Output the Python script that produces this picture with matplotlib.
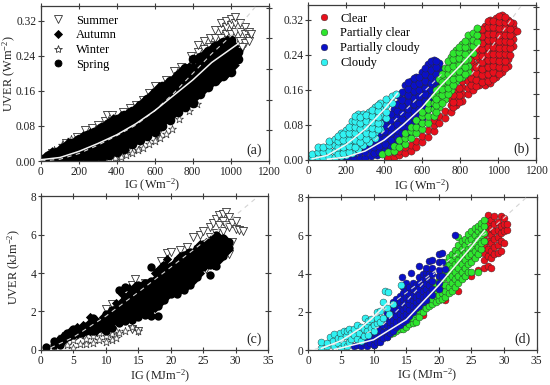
import matplotlib
matplotlib.use("Agg")
import matplotlib.pyplot as plt
from matplotlib.lines import Line2D

plt.rcParams['font.family'] = ['Liberation Serif', 'DejaVu Serif']
plt.rcParams['mathtext.default'] = 'regular'
plt.rcParams['font.size'] = 8

# ---------- panel (a): IG (W/m2), UVER (W/m2) ----------
a_summer = [(60,[.018]),(130,[.04]),(190,[.055]),(230,[.07]),(270,[.075]),(300,[.082]),(340,[.092]),(350,[.105]),(375,[.106]),(430,[.112]),(470,[.12]),(500,[.128]),(540,[.14]),(570,[.155]),(600,[.172]),(660,[.185]),(700,[.205]),(720,[.195]),(740,[.215]),(790,[.24]),(830,[.25]),(830,[.265]),(860,[.255,.275]),(890,[.26,.28]),(920,[.265,.28,.3]),(950,[.28,.3,.315]),(975,[.29,.305,.32]),(1000,[.27,.29,.31,.325]),(1025,[.275,.295,.315,.33]),(1050,[.25,.275,.295,.315]),(1075,[.27,.29,.305]),(1095,[.28,.295,.275]),(1108,[.29]),(1060,[.26]),(610,[.06]),(500,[.03]),(450,[.02]),(400,[.008])]
a_winter = [(330,[.002]),(360,[.004]),(390,[.007]),(420,[.01]),(450,[.014]),(480,[.018]),(510,[.024]),(540,[.03]),(570,[.038]),(600,[.046]),(630,[.052]),(660,[.062]),(690,[.072]),(730,[.095]),(780,[.115]),(820,[.13]),(70,[.026]),(110,[.036]),(160,[.05])]
a_spring = [(0,[.004]),(40,[.004,.014]),(80,[.005,.021]),(120,[.005,.02,.032]),(160,[.005,.02,.036,.042]),(200,[.006,.022,.038,.05]),(240,[.007,.023,.039,.059]),(280,[.007,.023,.039,.055,.067]),(320,[.01,.026,.042,.058,.077]),(360,[.013,.029,.045,.061,.077,.087]),(400,[.02,.036,.052,.068,.084,.097]),(440,[.028,.044,.06,.076,.092,.105]),(480,[.038,.054,.07,.086,.102,.114]),(520,[.048,.064,.08,.096,.112,.127]),(560,[.058,.074,.09,.106,.122,.142]),(600,[.066,.082,.098,.114,.13,.146,.157]),(640,[.08,.096,.112,.128,.144,.16,.172]),(680,[.093,.109,.125,.141,.157,.173,.182]),(720,[.113,.129,.145,.161,.177,.197]),(760,[.123,.139,.155,.171,.187,.203,.212]),(800,[.133,.149,.165,.181,.197,.213,.232]),(840,[.153,.169,.185,.201,.217,.237]),(880,[.168,.184,.2,.216,.232,.252]),(920,[.183,.199,.215,.231,.247,.262]),(960,[.193,.209,.225,.241,.257,.272]),(1000,[.203,.219,.235,.251,.267,.277]),(1040,[.233,.25])]
a_autumn = [(20,[.008]),(60,[.01,.02]),(100,[.012,.028]),(140,[.012,.028,.04]),(180,[.014,.03,.046]),(220,[.015,.031,.047,.056]),(260,[.015,.031,.047,.063]),(300,[.014,.03,.046,.062,.073]),(340,[.018,.034,.05,.066,.082]),(380,[.024,.04,.056,.072,.088,.095]),(420,[.03,.046,.062,.078,.094,.102]),(460,[.04,.056,.072,.088,.104,.11]),(500,[.05,.066,.082,.098,.114,.122]),(540,[.06,.076,.092,.108,.124,.134]),(580,[.07,.086,.102,.118,.134,.15]),(620,[.08,.096,.112,.128,.144,.16,.168]),(660,[.095,.111,.127,.143,.159,.175]),(700,[.11,.126,.142,.158,.174,.19]),(740,[.125,.141,.157,.173,.189,.205]),(780,[.135,.151,.167,.183,.199,.215]),(820,[.15,.166,.182,.198,.214,.232]),(860,[.165,.181,.197,.213,.229,.245]),(900,[.18,.196,.212,.228,.244,.258]),(940,[.19,.206,.222,.238,.254,.268]),(980,[.2,.216,.232,.248,.264,.277]),(1020,[.22,.236,.252,.262])]
a_fit_ig = [0,100,200,300,400,500,600,700,800,900,1040]
a_fit_uv = [.003,.008,.022,.04,.06,.085,.115,.15,.185,.225,.268]
a_dash_ig = [0,100,200,300,400,500,600,700,800,900,1000,1130]
a_dash_uv = [0,.004,.017,.036,.058,.082,.115,.155,.2,.245,.285,.352]

# ---------- panel (b) ----------
b_red = [(420,[.004]),(450,[.006,.018]),(480,[.01,.021]),(510,[.016,.029]),(540,[.02,.033]),(570,[.03,.042]),(600,[.04,.054]),(630,[.052,.068]),(660,[.065,.08,.09]),(690,[.085,.1]),(720,[.095,.112]),(750,[.11,.125,.138]),(780,[.125,.14,.155]),(810,[.135,.15,.166,.18]),(840,[.15,.165,.18,.196,.21]),(870,[.16,.176,.19,.206,.22,.24,.255]),(900,[.17,.186,.2,.216,.23,.246,.26,.275,.288]),(930,[.17,.184,.2,.214,.23,.244,.26,.276,.29,.306]),(960,[.176,.19,.206,.22,.236,.25,.266,.28,.296,.31,.32]),(990,[.19,.204,.22,.234,.25,.264,.28,.294,.31,.325]),(1020,[.2,.216,.23,.246,.26,.276,.29,.306,.32,.33]),(1050,[.215,.23,.244,.26,.274,.29,.304,.32]),(1080,[.26,.276,.29,.304,.312]),(1100,[.295]),
         (855,[.172,.187,.2,.228]),(885,[.168,.183,.198,.212,.238,.253,.27]),(915,[.178,.193,.208,.223,.238,.253,.268,.283,.298]),(945,[.18,.196,.212,.228,.243,.258,.273,.288,.303,.318]),(975,[.185,.2,.214,.228,.243,.258,.273,.288,.303,.318]),(1005,[.197,.212,.226,.241,.256,.271,.286,.301,.316,.328]),(1035,[.21,.226,.241,.256,.271,.286,.301,.316,.326]),(1065,[.24,.255,.27,.285,.3,.315]),(795,[.133,.148,.163]),(765,[.12,.133,.147])]
b_blue = [(180,[.002]),(210,[.004]),(240,[.004,.016]),(270,[.004,.018,.028]),(300,[.005,.018,.03]),(330,[.008,.022,.036,.048]),(360,[.01,.024,.038,.052,.066]),(390,[.016,.03,.044,.058,.072,.085]),(420,[.024,.038,.052,.066,.08,.095]),(450,[.03,.045,.06,.075,.09,.105,.115]),(480,[.04,.055,.07,.085,.1,.115,.13,.145]),(510,[.05,.065,.08,.095,.11,.125,.14,.155,.17]),(540,[.06,.075,.09,.105,.12,.135,.15,.165,.18]),(570,[.075,.09,.105,.12,.135,.15,.165,.18,.19]),(600,[.095,.11,.125,.14,.155,.17,.185,.2]),(630,[.115,.13,.145,.16,.175,.19,.205,.22]),(660,[.14,.155,.17,.185,.2,.215,.228]),(690,[.165,.18,.195,.21,.222]),(710,[.19,.205]),
          (345,[.015,.03,.045,.058]),(375,[.017,.032,.047,.062,.076]),(405,[.02,.035,.05,.065,.08,.09]),(435,[.03,.045,.06,.075,.09,.104]),(465,[.037,.052,.067,.082,.097,.112,.128]),(495,[.047,.062,.077,.092,.107,.122,.137,.155]),(525,[.057,.072,.087,.102,.117,.132,.147,.162,.178]),(555,[.067,.082,.097,.112,.127,.142,.157,.172,.186]),(585,[.085,.1,.115,.13,.145,.16,.175,.19]),(615,[.105,.12,.135,.15,.165,.18,.195,.21]),(645,[.13,.145,.16,.175,.19,.205,.225]),(675,[.152,.167,.182,.197,.212,.226])]
b_green = [(390,[.012]),(420,[.018]),(450,[.02,.032]),(480,[.03,.045]),(510,[.036,.05,.06]),(540,[.05,.065,.075]),(570,[.06,.075,.09]),(600,[.07,.085,.1,.11]),(630,[.085,.1,.115,.13]),(660,[.1,.115,.13,.145]),(690,[.12,.135,.15,.165,.185]),(720,[.14,.155,.17,.185,.2,.21]),(750,[.16,.175,.19,.205,.22,.235]),(780,[.18,.195,.21,.225,.24,.25]),(810,[.19,.205,.22,.235,.25,.265]),(840,[.2,.215,.23,.245,.26,.275,.285]),(870,[.245,.26,.275,.29]),(890,[.27,.285,.302]),
           (675,[.11,.125,.14,.16]),(705,[.13,.147,.162,.177,.195]),(735,[.15,.165,.18,.195,.21,.225]),(765,[.17,.185,.2,.215,.23,.245]),(795,[.187,.202,.217,.232,.247,.258]),(825,[.197,.212,.227,.242,.257,.272])]
b_cyan = [(0,[.005]),(20,[.006,.012]),(50,[.005,.018,.03]),(80,[.005,.018,.028]),(110,[.006,.02,.034,.042]),(140,[.006,.02,.034,.048]),(170,[.008,.022,.036,.05,.062]),(200,[.01,.024,.038,.052,.068]),(230,[.016,.03,.044,.058,.072,.088]),(260,[.024,.038,.052,.066,.08,.094,.105]),(290,[.034,.048,.062,.076,.09,.104]),(320,[.04,.054,.068,.082,.096,.11]),(350,[.05,.064,.078,.092,.106,.12]),(380,[.07,.085,.1,.115,.13]),(410,[.095,.11,.125,.14]),(440,[.13,.145]),(460,[.15]),
          (155,[.014,.028,.042,.055]),(185,[.016,.03,.044,.058]),(215,[.018,.032,.046,.06,.075]),(245,[.03,.045,.06,.074,.088,.1]),(275,[.04,.055,.07,.084,.098]),(305,[.047,.061,.075,.089,.103]),(335,[.058,.072,.086,.1,.114]),(365,[.07,.084,.098,.112,.126])]
b_curve1_ig = [20,100,200,300,400,470]
b_curve1_uv = [.002,.01,.035,.07,.115,.152]
b_curve2_ig = [100,200,300,400,500,600,700,800,900]
b_curve2_uv = [.001,.006,.02,.045,.08,.12,.17,.215,.262]
b_dash1_ig = [352,713]
b_dash1_uv = [.045,.2]
b_dash2_ig = [860,1135]
b_dash2_uv = [.195,.36]

# ---------- panel (c): IG (MJ/m2), UVER (kJ/m2) ----------
c_summer = [(10,[2.1]),(11,[2.4]),(13,[2.8,3.0]),(14,[3.4,1.1]),(14.5,[3.7]),(16,[3.5]),(18.5,[4.6]),(19.5,[5.05]),(20,[5.1]),(21.5,[5.2]),(22.5,[5.35]),(23.5,[5.9]),(24.5,[6.0]),(25,[6.2]),(26,[6.4,5.9]),(26.5,[6.6]),(27,[6.8,6.1]),(27.5,[7.0,6.5]),(28,[7.1,6.7,6.2]),(28.5,[7.2,6.5]),(29,[6.9,6.4,5.0]),(29.5,[6.6,5.6]),(30,[6.3,6.7]),(30.5,[6.25]),(31.2,[6.2]),(25.5,[4.2]),(15,[1.0])]
c_winter = [(2,[.15]),(3.2,[.7]),(4,[.25]),(5,[.1,.5]),(6,[.3,.75]),(7,[.3,.55]),(8,[.35,.7]),(9,[.5,.85]),(10,[.4,.7]),(11,[.8,.5]),(11.5,[.6,1.0]),(12,[.85]),(13,[1.0]),(14,[1.2]),(15,[.95])]
c_spring = [(.8,[.15]),(2,[.25,.45]),(3,[.25,.55]),(4,[.65,.85]),(5,[.75,1.1]),(6,[.85,1.1]),(7,[.95,1.25]),(8,[1.0,1.3,1.65]),(9,[1.15,1.45]),(10,[1.0,1.3,1.6,1.85]),(11,[1.15,1.45,1.75,2.05]),(12,[1.4,1.7,2.0,2.3,3.1]),(13,[1.5,1.8,2.1,2.4,2.7,3.25]),(14,[1.55,1.85,2.15,2.45,2.75,3.05]),(15,[1.7,2.0,2.3,2.6,2.9,3.2,3.4]),(16,[1.8,2.1,2.4,2.7,3.0,3.3,3.5]),(17,[1.75,2.1,2.4,2.7,3.0,3.3,3.6,4.3]),(18,[1.75,2.3,2.6,2.9,3.2,3.5,3.8,4.1]),(19,[2.6,2.9,3.2,3.5,3.8,4.1,4.4]),(20,[2.9,3.2,3.5,3.8,4.1,4.35]),(21,[2.9,3.2,3.5,3.8,4.1,4.4,4.7]),(22,[3.1,3.4,3.7,4.0,4.3,4.6,4.95]),(23,[3.4,3.7,4.0,4.3,4.6,4.9,5.1]),(24,[3.8,4.1,4.4,4.7,5.0,5.3]),(25,[4.3,4.6,4.9,5.2,5.5]),(26,[3.9,4.4,4.7,5.0,5.3,5.6]),(27,[4.35,4.6,4.9,5.2,5.5,5.8,6.0]),(28,[4.9,5.2,5.5,5.8]),(29,[5.3,5.6])]
c_autumn = [(2.5,[.4]),(3.5,[.5,.75]),(4.5,[.7,.95]),(5.5,[.8,1.2]),(6.5,[.85,1.05,1.3]),(7.5,[.95,1.15,1.45,1.7]),(8.5,[.95,1.25,1.55]),(9.5,[1.1,1.4,1.7]),(10.5,[1.3,1.6,1.9]),(11.5,[1.55,1.85,2.15,2.45]),(12.5,[1.65,1.95,2.25,2.55,2.9,3.1]),(13.5,[1.7,2.0,2.3,2.6,2.9,3.2]),(14.5,[1.85,2.15,2.45,2.75,3.05,3.3]),(15.5,[1.9,2.2,2.5,2.8,3.1,3.4]),(16.5,[1.9,2.25,2.55,2.85,3.15,3.45]),(17.5,[2.2,2.5,2.8,3.1,3.4,3.7,4.0]),(18.5,[2.5,2.8,3.1,3.4,3.7,4.0,4.3]),(19.5,[2.8,3.1,3.4,3.7,4.0,4.3,4.75]),(20.5,[3.0,3.3,3.6,3.9,4.2,4.5]),(21.5,[3.1,3.4,3.7,4.0,4.3,4.6,4.9]),(22.5,[3.3,3.6,3.9,4.2,4.5,4.8,5.05]),(23.5,[3.6,3.9,4.2,4.5,4.8,5.1]),(24.5,[4.0,4.3,4.6,4.9,5.2,5.5]),(25.5,[4.4,4.7,5.0,5.3,5.6]),(26.5,[4.4,4.7,5.0,5.3,5.6,5.9]),(27.5,[4.7,5.0,5.3,5.6,5.9]),(28.5,[5.1,5.4,5.7])]
c_dash_ig = [1.5,5,10,15,20,25,33.5]
c_dash_uv = [.1,.65,1.75,3.0,4.3,5.6,8.0]

# ---------- panel (d) ----------
d_red = [(17,[1.95]),(17.5,[1.85]),(19,[2.6]),(21,[2.65,3.15]),(22,[3.3]),(23,[3.1,4.2]),(24,[3.9,4.4]),(25,[4.75,3.9,5.1]),(26,[4.2,5.0,6.3]),(27,[4.3,4.7,5.1,5.5,6.0,6.4,6.6]),(27.5,[4.4,4.9,5.3,5.7,6.2,6.6,7.05]),(28,[4.3,4.8,5.2,5.6,6.0,6.4,6.8]),(28.5,[5.0,5.4,5.8,6.2,6.6,7.0]),(29,[5.1,5.5,5.9,6.3,6.7]),(29.5,[5.2,5.7,6.1,6.5,7.0]),(30,[6.2,6.6,6.9,5.6]),(30.5,[6.3,6.6])]
d_blue = [(7,[.2]),(7.5,[.3]),(8,[.25,.6]),(8.5,[.4]),(9,[.25,.55,.85]),(9.5,[.4,.7]),(10,[.3,.6,.95]),(10.5,[.45,.8,1.2]),(11,[.45,.75,1.05,1.4]),(11.5,[.65,.95,1.3,1.65]),(12,[.7,1.0,1.3,1.6,1.95]),(12.5,[.9,1.2,1.5,1.8,2.1]),(13,[1.0,1.3,1.6,1.9,2.2,2.5]),(13.5,[1.2,1.5,1.8,2.1,2.4,2.7]),(14,[1.3,1.6,1.9,2.2,2.5,2.85]),(14.5,[1.5,1.8,2.1,2.4,2.7,3.0,3.3]),(15,[1.6,1.9,2.2,2.5,2.8,3.1,3.5]),(15.5,[1.8,2.1,2.4,2.7,3.0,3.3]),(16,[2.0,2.3,2.6,2.9,3.2,3.5]),(16.5,[2.2,2.5,2.8,3.1,3.4]),(17,[2.3,2.6,2.9,3.2,3.5,3.8,4.4]),(17.5,[2.5,2.8,3.1,3.4,3.7,4.0]),(18,[2.6,2.9,3.2,3.5,3.8,4.1,4.3]),(18.5,[3.0,3.4,3.7,4.0,4.65]),(19,[2.9,3.2,3.6,4.0,4.3,4.7]),(20,[3.2,3.5,3.9,4.2,4.6,5.05]),(20.5,[3.9,4.6,5.1]),(21,[4.25]),(22.5,[6.0]),(14.3,[3.8]),(15.8,[4.05])]
d_green = [(10,[.3]),(11,[.55,.8]),(12,[.7,1.0]),(12.5,[.85,1.1]),(13,[.9,1.2]),(13.5,[1.0,1.3]),(14,[1.1,1.4,1.75]),(14.5,[1.1,1.45,1.8]),(15,[1.2,1.5,1.9]),(15.5,[1.35,1.7,2.0]),(16,[1.4,1.7,2.1,2.3]),(16.5,[1.5,1.9,2.25]),(17,[1.75,2.1,2.4,2.9]),(17.5,[2.0,2.3,2.65,3.0]),(18,[2.2,2.5,2.8,3.1]),(18.5,[2.3,2.65,2.95,3.25]),(19,[2.4,2.7,3.0,3.4]),(19.5,[2.5,2.85,3.15,3.5]),(20,[2.6,2.9,3.2,3.6,3.9]),(20.5,[2.7,3.0,3.4,3.7,4.1]),(21,[2.8,3.1,3.4,3.8,4.2,4.6]),(21.5,[3.0,3.3,3.7,4.05,4.45,4.85]),(22,[3.1,3.5,3.9,4.3,4.7,5.0]),(22.5,[3.3,3.7,4.1,4.5,4.9,5.25]),(23,[3.5,3.9,4.3,4.7,5.1,5.5,5.9]),(23.5,[3.7,4.1,4.5,4.9,5.3,5.7]),(24,[3.9,4.3,4.7,5.1,5.5,5.8]),(24.5,[4.1,4.5,4.9,5.3,5.7,6.05]),(25,[4.1,4.6,5.0,5.4,5.8,6.2]),(25.5,[4.8,5.2,5.6,6.0,6.4]),(26,[4.1,5.0,5.4,5.8,6.2,6.5]),(26.5,[5.3,5.6,6.0,6.4,6.65]),(27,[5.7,6.1,6.5,6.8])]
d_cyan = [(2,[.1,.45]),(2.8,[.2,.4]),(3.3,[.7]),(3.8,[.5]),(4,[.85,.25]),(4.5,[.4,.65]),(4.8,[.9]),(5,[.1,.6]),(5.5,[1.0,.35]),(5.8,[.75]),(6,[.2,1.0]),(6.3,[1.1,.45]),(6.6,[.6,.9]),(7,[.8,1.1]),(7.4,[1.3,.6]),(7.8,[.9]),(8,[.5,1.2]),(8.5,[1.1,.75]),(8.7,[1.7]),(9,[1.3,1.0]),(9.2,[.8,1.55]),(9.6,[1.65,1.15]),(10,[1.0,1.3]),(10.5,[1.4,1.7,2.0]),(11,[1.5,2.05]),(11.5,[1.7,2.5]),(12,[2.2]),(12.3,[1.9]),(11.8,[3.1]),(12.2,[3.05]),(13,[2.4]),(14.2,[3.4])]
d_curve1_ig = [2,5,8,10,12.2]
d_curve1_uv = [.1,.5,1.15,1.75,2.5]
d_curve2_ig = [4,5,10,15,20,25,27]
d_curve2_uv = [.05,.12,.55,1.6,3.4,5.4,6.25]
d_dash1_ig = [9,11.5,14,17.6,20]
d_dash1_uv = [.9,1.35,2.2,3.5,4.2]
d_dash2_ig = [1,5,25,28,33.5]
d_dash2_uv = [.05,.4,5.6,6.3,8.0]

season_labels = ['Summer','Autumn','Winter','Spring']
sky_labels = ['Clear','Partially clear','Partially cloudy','Cloudy']
w_ticks = [0,200,400,600,800,1000,1200]
w_ylabels = ['0.00','0.08','0.16','0.24','0.32']
w_yticks = [0,.08,.16,.24,.32]
mj_ticks = [0,5,10,15,20,25,30,35]
mj_yticks = [0,2,4,6,8]
RED,GREEN,BLUE,CYAN = '#e8101c','#2ee62e','#0a10c8','#30f2f2'
DARK = '#3c3c3c'

def expand(cols):
    xs,ys = [],[]
    for x,vals in cols:
        for v in vals:
            xs.append(x); ys.append(v)
    return xs,ys

W,H = 550,385
fig = plt.figure(figsize=(5.5,3.85),dpi=100)
def make_ax(l,r,top,bot,xlim,ylim,xt,yt,rt,yl=None):
    ax = fig.add_axes([l/W,1-bot/H,(r-l)/W,(bot-top)/H])
    ax.set_xlim(*xlim); ax.set_ylim(*ylim)
    ax.set_xticks(xt); ax.set_yticks(yt)
    if yl: ax.set_yticklabels(yl)
    ax.tick_params(direction='inout',length=4,width=.8,color=DARK,labelsize=8.3,pad=1.5,top=True,labelcolor='#222222')
    for s in ax.spines.values():
        s.set_color(DARK); s.set_linewidth(.9)
    tw = ax.twinx(); tw.set_ylim(*ylim); tw.set_yticks(rt)
    tw.tick_params(direction='inout',length=4,width=.8,color=DARK,labelright=False)
    for s in tw.spines.values():
        s.set_visible(False)
    return ax
ax_a = make_ax(41,268.6,6,161,(0,1200),(0,.354),w_ticks,w_yticks,[.07,.14,.21,.28,.35],w_ylabels)
ax_b = make_ax(308.3,536,5,159.7,(0,1200),(0,.354),w_ticks,w_yticks,[.05,.10,.15,.20,.25,.30,.35],w_ylabels)
ax_c = make_ax(41,268,196.3,349.7,(0,35),(0,8),mj_ticks,mj_yticks,[2,4,6])
ax_d = make_ax(308.3,536.7,197,350.3,(0,35),(0,8),mj_ticks,mj_yticks,[2,4,6])

def season_panel(ax,summer,autumn,winter,spring,s):
    ax.scatter(*expand(summer),marker='v',s=34,facecolor='white',edgecolor='#333333',linewidth=.6,zorder=2)
    ax.scatter(*expand(winter),marker='*',s=36,facecolor='white',edgecolor='#333333',linewidth=.5,zorder=2.1)
    ax.scatter(*expand(autumn),marker='D',s=s*.62,color='black',linewidth=0,zorder=2.2)
    ax.scatter(*expand(spring),marker='o',s=s,color='black',linewidth=0,zorder=2.3)
def sky_panel(ax,red,green,blue,cyan,s,blue_on_top=False):
    kw = dict(marker='o',s=s,edgecolor='#2a2a2a',linewidth=.3)
    ax.scatter(*expand(red),color=RED,zorder=2,**kw)
    ax.scatter(*expand(blue),color=BLUE,zorder=2.25 if blue_on_top else 2.1,**kw)
    ax.scatter(*expand(green),color=GREEN,zorder=2.2,**kw)
    ax.scatter(*expand(cyan),color=CYAN,zorder=2.3,**kw)

season_panel(ax_a,a_summer,a_autumn,a_winter,a_spring,48)
season_panel(ax_c,c_summer,c_autumn,c_winter,c_spring,36)
sky_panel(ax_b,b_red,b_green,b_blue,b_cyan,27)
sky_panel(ax_d,d_red,d_green,d_blue,d_cyan,25,blue_on_top=True)

dash = dict(color='#d4d4d4',lw=.8,ls=(0,(4,4)),zorder=5)
sol = dict(color='#f4f4f4',lw=1.1,zorder=5.1)
ax_a.plot(a_dash_ig,a_dash_uv,**dash); ax_a.plot(a_fit_ig,a_fit_uv,**sol)
ax_b.plot(b_dash1_ig,b_dash1_uv,**dash); ax_b.plot(b_dash2_ig,b_dash2_uv,**dash)
ax_b.plot(b_curve1_ig,b_curve1_uv,**sol); ax_b.plot(b_curve2_ig,b_curve2_uv,**sol)
ax_c.plot(c_dash_ig,c_dash_uv,**dash)
ax_d.plot(d_dash1_ig,d_dash1_uv,**dash); ax_d.plot(d_dash2_ig,d_dash2_uv,**dash)
ax_d.plot(d_curve1_ig,d_curve1_uv,**sol); ax_d.plot(d_curve2_ig,d_curve2_uv,**sol)

# legends
def proxy(marker,ms,fc,ec='#333333',mew=.6):
    return Line2D([],[],ls='none',marker=marker,markersize=ms,markerfacecolor=fc,markeredgecolor=ec,markeredgewidth=mew)
season_handles = [proxy('v',5.6,'white'),proxy('D',4,'black','black'),proxy('*',6,'white'),proxy('o',5,'black','black')]
sky_handles = [proxy('o',4.8,c,'#2a2a2a',.3) for c in (RED,GREEN,BLUE,CYAN)]
ax_a.legend(season_handles,season_labels,loc='upper left',bbox_to_anchor=(.03,.945),frameon=False,
            fontsize=9,labelspacing=.22,handletextpad=.65,handlelength=1.6,borderpad=0,borderaxespad=0)
ax_b.legend(sky_handles,sky_labels,loc='upper left',bbox_to_anchor=(.025,.95),frameon=False,
            fontsize=9,labelspacing=.22,handletextpad=.5,handlelength=1.6,borderpad=0,borderaxespad=0)

for ax,t in [(ax_a,'(a)'),(ax_b,'(b)'),(ax_c,'(c)'),(ax_d,'(d)')]:
    ax.text(.972,.07,t,transform=ax.transAxes,ha='right',va='center',fontsize=10,color='#222222',zorder=8)

def ftext(x,y,s,**k):
    fig.text(x/W,1-y/H,s,ha='center',va='center',fontsize=8.8,color='#222222',**k)
ftext(152,185,'IG (Wm$^{-2}$)')
ftext(421.7,186,'IG (Wm$^{-2}$)')
ftext(160,376,'IG (MJm$^{-2}$)')
ftext(427,375,'IG (MJm$^{-2}$)')
ftext(9,74,'UVER (Wm$^{-2}$)',rotation=90)
ftext(14,267,'UVER (kJm$^{-2}$)',rotation=90)

fig.savefig('out.png',dpi=100)
